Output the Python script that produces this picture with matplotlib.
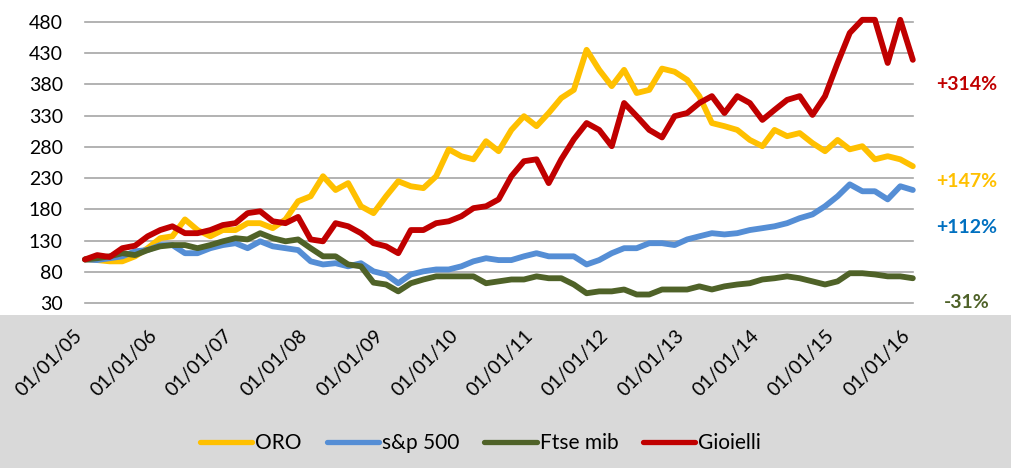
import numpy as np
import pandas as pd
import matplotlib
matplotlib.use("Agg")
import matplotlib.pyplot as plt
import matplotlib.dates as mdates
from matplotlib.patches import Rectangle
from matplotlib.lines import Line2D

plt.rcParams['font.family'] = ['Lato', 'DejaVu Sans']

# campioni ogni due mesi, gen 2005 -> gen 2016 (base 100)
dates = pd.date_range('2005-01-01', periods=67, freq='2MS')

oro = [100, 99, 97, 97, 105, 118, 134, 137, 164, 147,
       137, 147, 147, 158, 158, 150, 164, 193, 201, 233,
       211, 222, 185, 174, 201, 225, 217, 214, 233, 276,
       265, 260, 289, 273, 307, 329, 313, 334, 358, 371,
       435, 403, 377, 403, 366, 371, 405, 400, 387, 361,
       318, 313, 307, 291, 281, 307, 297, 302, 286, 273,
       291, 276, 281, 260, 265, 260, 249]
sp500 = [100, 99, 102, 105, 113, 115, 123, 123, 110, 110,
         118, 123, 126, 118, 129, 121, 118, 115, 97, 92,
         94, 89, 94, 81, 76, 62, 76, 81, 84, 84,
         89, 97, 102, 99, 99, 105, 110, 105, 105, 105,
         92, 99, 110, 118, 118, 126, 126, 123, 132, 137,
         142, 140, 142, 147, 150, 153, 158, 166, 172, 185,
         201, 220, 209, 209, 196, 217, 211]
ftse = [100, 102, 105, 110, 107, 115, 121, 123, 123, 118,
        123, 129, 134, 132, 142, 134, 129, 132, 118, 105,
        105, 92, 89, 63, 60, 49, 62, 68, 73, 73,
        73, 73, 62, 65, 68, 68, 73, 70, 70, 60,
        46, 49, 49, 52, 44, 44, 52, 52, 52, 57,
        52, 57, 60, 62, 68, 70, 73, 70, 65, 60,
        65, 78, 78, 76, 73, 73, 70]
gioielli = [100, 107, 104, 118, 122, 137, 147, 153, 142, 142,
            147, 155, 158, 174, 177, 161, 158, 168, 132, 129,
            158, 153, 142, 126, 121, 110, 147, 147, 158, 161,
            169, 182, 185, 196, 233, 257, 260, 222, 260, 292,
            318, 307, 281, 350, 329, 307, 295, 329, 334, 350,
            361, 334, 361, 350, 323, 339, 355, 361, 331, 361,
            414, 462, 483, 483, 414, 483, 419]

names = ['ORO', 's&p 500', 'Ftse mib', 'Gioielli']
colors = ['#ffc000', '#558ed5', '#4f6228', '#c00000']
labels_pct = ['+147%', '+112%', '-31%', '+314%']
label_y = [224, 151, 31, 379]
label_colors = ['#ffc000', '#0070c0', '#4f6228', '#c00000']

fig = plt.figure(figsize=(10.12, 4.68), dpi=100)
fig.patch.set_facecolor('#d9d9d9')
fig.add_artist(Rectangle((0, 0.327), 1, 0.673, transform=fig.transFigure,
                         facecolor='white', edgecolor='none', zorder=-1))

ax = fig.add_axes([0.084, 0.352, 0.818, 0.6017])
ax.patch.set_alpha(0)

for s, c in zip([oro, sp500, ftse, gioielli], colors):
    ax.plot(dates, s, color=c, lw=4.2, solid_capstyle='round',
            solid_joinstyle='round', clip_on=False)

ax.set_xlim(pd.Timestamp('2005-01-01'), pd.Timestamp('2016-01-01'))
ax.set_ylim(30, 480)
ax.set_yticks(range(30, 481, 50))
ax.yaxis.grid(True, color='#a6a6a6', lw=1.2)
for gl in ax.get_ygridlines():
    gl.set_clip_on(False)
ax.set_axisbelow(True)

ax.xaxis.set_major_locator(mdates.YearLocator())
ax.xaxis.set_major_formatter(mdates.DateFormatter('%d/%m/%y'))
ax.tick_params(axis='y', length=0, pad=16, labelsize=14)
ax.tick_params(axis='x', length=0, pad=17, labelsize=14)
for lab in ax.get_xticklabels():
    lab.set_rotation(45)
    lab.set_ha('right')
    lab.set_va('top')
for sp in ax.spines.values():
    sp.set_visible(False)

for txt, yv, c in zip(labels_pct, label_y, label_colors):
    ax.text(1.065, yv, txt, transform=ax.get_yaxis_transform(), color=c,
            fontsize=14, fontweight='bold', ha='center', va='center')

handles = [Line2D([], [], color=c, lw=3.8, solid_capstyle='round') for c in colors]
fig.legend(handles, names, loc='center', bbox_to_anchor=(0.475, 0.053),
           ncol=4, frameon=False, fontsize=15, handlelength=2.5,
           handletextpad=0.15, columnspacing=1.2)

fig.savefig('out.png', dpi=100, facecolor=fig.get_facecolor())
